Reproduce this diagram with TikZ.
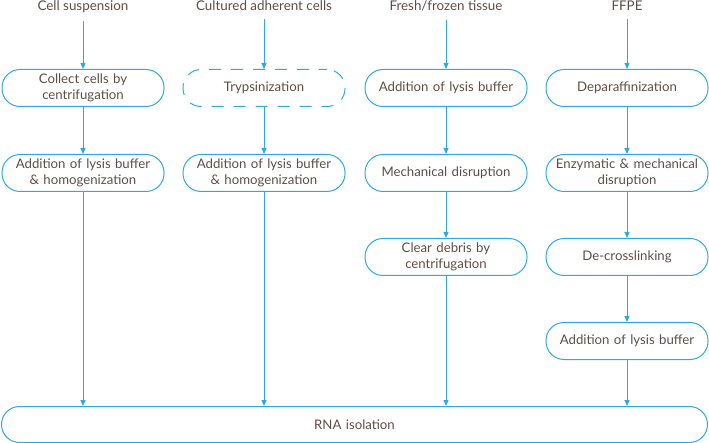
\documentclass[tikz,border=0pt]{standalone}
\usepackage{fontspec}
\setmainfont{Lato}
\usetikzlibrary{arrows.meta}
\definecolor{flowblue}{HTML}{2DAAE1}
\definecolor{flowtext}{HTML}{5E4D47}
\tikzset{
  >={Triangle[length=6pt,width=5pt]},
  step box/.style={
    draw=flowblue, line width=1pt, rounded corners=18pt,
    minimum width=162pt, minimum height=37pt, text width=158pt,
    align=center, text=flowtext, font=\fontsize{13.2}{16}\selectfont,
    inner sep=0pt
  },
  dashed box/.style={
    step box, dash pattern=on 12pt off 10pt, dash phase=4pt
  },
  source/.style={
    anchor=base, text=flowtext, font=\fontsize{13.4}{16}\selectfont,
    inner sep=0pt
  },
  flow/.style={->, draw=flowblue, fill=flowblue, line width=1pt}
}
\begin{document}
\begin{tikzpicture}[x=1pt,y=-1pt]
    \useasboundingbox (0,0) rectangle (709,443);

    \node [source] (s1) at ( 83, 11) {Cell suspension};
    \node [source] (s2) at (264, 11) {Cultured adherent cells};
    \node [source] (s3) at (446, 11) {Fresh/frozen tissue};
    \node [source] (s4) at (627, 11) {FFPE};

    \node [step box]   (c1a) at ( 83, 88) {Collect cells by\\centrifugation};
    \node [step box]   (c1b) at ( 83,173) {Addition of lysis buffer\\\& homogenization};
    \node [dashed box] (c2a) at (264, 88) {Trypsinization};
    \node [step box]   (c2b) at (264,173) {Addition of lysis buffer\\\& homogenization};
    \node [step box]   (c3a) at (446, 88) {Addition of lysis buffer};
    \node [step box]   (c3b) at (446,173) {Mechanical disruption};
    \node [step box]   (c3c) at (446,257) {Clear debris by\\centrifugation};
    \node [step box]   (c4a) at (627, 88) {Deparaffinization};
    \node [step box]   (c4b) at (627,173) {Enzymatic \& mechanical\\disruption};
    \node [step box]   (c4c) at (627,257) {De-crosslinking};
    \node [step box]   (c4d) at (627,341) {Addition of lysis buffer};

    \node [step box, minimum width=706pt, minimum height=36pt, text width=600pt]
      (rna) at (354.5,424.5) {RNA isolation};

    \draw [flow, shorten <=8pt] (s1) -- (c1a);
    \draw [flow, shorten <=8pt] (s2) -- (c2a);
    \draw [flow, shorten <=8pt] (s3) -- (c3a);
    \draw [flow, shorten <=8pt] (s4) -- (c4a);

    \draw [flow] (c1a) -- (c1b);
    \draw [flow] (c2a) -- (c2b);
    \draw [flow] (c3a) -- (c3b);
    \draw [flow] (c3b) -- (c3c);
    \draw [flow] (c4a) -- (c4b);
    \draw [flow] (c4b) -- (c4c);
    \draw [flow] (c4c) -- (c4d);

    \draw [flow] (c1b) -- (c1b |- rna.north);
    \draw [flow] (c2b) -- (c2b |- rna.north);
    \draw [flow] (c3c) -- (c3c |- rna.north);
    \draw [flow] (c4d) -- (c4d |- rna.north);
\end{tikzpicture}
\end{document}
